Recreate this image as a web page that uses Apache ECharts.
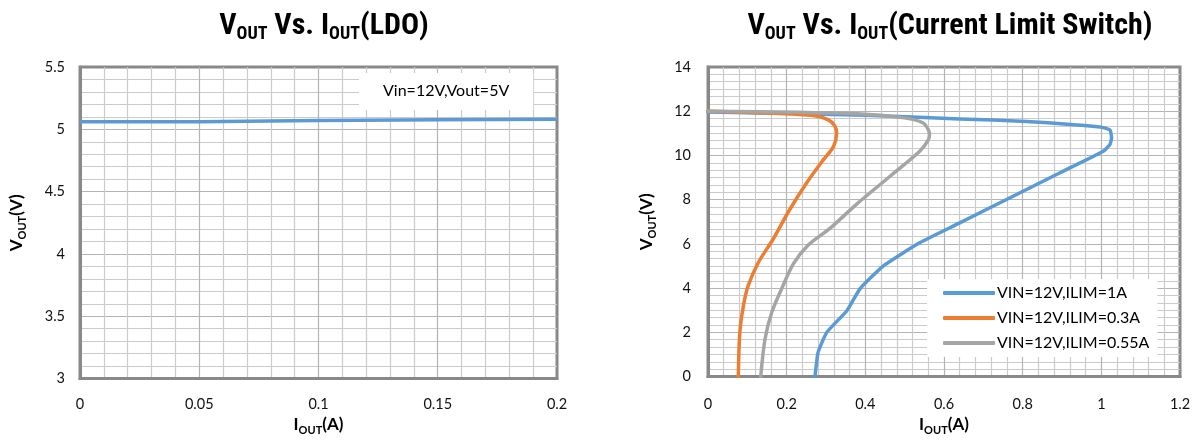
<!DOCTYPE html>
<html>
<head>
<meta charset="utf-8">
<script src="https://cdn.jsdelivr.net/npm/echarts@6/dist/echarts.min.js"></script>
<style>
html,body{margin:0;padding:0;background:#fff;}
#c{width:1198px;height:441px;}
</style>
</head>
<body>
<div id="c"></div>
<script>
// ---- Data ----
var ldoName = 'Vin=12V,Vout=5V';
var ldoI = [0, 0.05, 0.1, 0.15, 0.2];
var ldoV = [5.06, 5.06, 5.07, 5.077, 5.08];

var ldoXTicks = [0, 0.05, 0.1, 0.15, 0.2];
var ldoYTicks = [3, 3.5, 4, 4.5, 5, 5.5];

var swNames = ['VIN=12V,ILIM=1A', 'VIN=12V,ILIM=0.3A', 'VIN=12V,ILIM=0.55A'];

var sw1I = [0, 0.4, 0.64, 0.81, 0.997, 1.022, 1.026, 1.022, 1.005, 0.895, 0.768, 0.64, 0.539, 0.446, 0.386, 0.353, 0.302, 0.28, 0.272];
var sw1V = [11.97, 11.82, 11.65, 11.54, 11.29, 11.15, 10.8, 10.5, 10.19, 9.22, 8.09, 6.95, 6.06, 5.01, 3.96, 2.98, 2.0, 1.1, 0];

var sw2I = [0, 0.15, 0.27, 0.305, 0.322, 0.327, 0.319, 0.293, 0.251, 0.206, 0.165, 0.128, 0.102, 0.09, 0.081, 0.077];
var sw2V = [12.0, 11.92, 11.8, 11.62, 11.35, 11.0, 10.4, 9.8, 8.77, 7.5, 6.2, 5.16, 4.1, 3.2, 2.0, 0];

var sw3I = [0, 0.38, 0.5, 0.547, 0.56, 0.563, 0.56, 0.539, 0.463, 0.378, 0.31, 0.255, 0.217, 0.188, 0.162, 0.145, 0.134];
var sw3V = [12.0, 11.89, 11.7, 11.47, 11.17, 10.94, 10.7, 10.2, 9.06, 7.8, 6.7, 5.95, 5.1, 4.0, 2.9, 1.7, 0];

var swXTicks = [0, 0.2, 0.4, 0.6, 0.8, 1, 1.2];
var swYTicks = [0, 2, 4, 6, 8, 10, 12, 14];

var colors = ['#5b9bd5', '#ed7d31', '#a5a5a5'];

function pairs(xs, ys) { return xs.map(function (x, i) { return [x, ys[i]]; }); }

var narrow = "'Liberation Sans Narrow', 'Roboto Condensed', 'DejaVu Sans Condensed', 'Liberation Sans', sans-serif";
var lab = "Lato, 'Open Sans', 'Liberation Sans', sans-serif";

var titleRich = {
  b: { fontSize: 30, fontWeight: 'bold', fontFamily: narrow, color: '#000', lineHeight: 34, verticalAlign: 'middle' },
  s: { fontSize: 18, fontWeight: 'bold', fontFamily: narrow, color: '#000', lineHeight: 34, verticalAlign: 'bottom' }
};
var nameRich = {
  b: { fontSize: 17, fontWeight: 'bold', fontFamily: lab, color: '#000', lineHeight: 22, verticalAlign: 'middle' },
  s: { fontSize: 11, fontWeight: 'bold', fontFamily: lab, color: '#000', lineHeight: 22, verticalAlign: 'bottom' }
};

var borderColor = '#898989';

function axisCommon(extra) {
  var a = {
    type: 'value',
    axisLine: { show: true, onZero: false, lineStyle: { color: borderColor, width: 3 } },
    axisTick: { show: false },
    axisLabel: { color: '#111', fontSize: 14.5, fontFamily: lab },
    splitLine: { show: true, showMinLine: false, showMaxLine: false, lineStyle: { color: '#b4b4b4', width: 1.2 } },
    minorTick: { show: false, splitNumber: 5 },
    minorSplitLine: { show: true, lineStyle: { color: '#cbcbcb', width: 1.2 } }
  };
  for (var k in extra) a[k] = extra[k];
  return a;
}

var chart = echarts.init(document.getElementById('c'), null, { renderer: 'canvas' });

var option = {
  backgroundColor: '#fff',
  animation: false,
  title: [
    { text: '{b|V}{s|OUT}{b| Vs. I}{s|OUT}{b|(LDO)}', left: 319, top: 4, textAlign: 'center', textStyle: { rich: titleRich } },
    { text: '{b|V}{s|OUT}{b| Vs. I}{s|OUT}{b|(Current Limit Switch)}', left: 945, top: 4, textAlign: 'center', textStyle: { rich: titleRich } },
    { text: ldoName, left: 359, top: 73, backgroundColor: '#fff', padding: [9, 24, 10, 24], z: 3,
      textStyle: { fontSize: 16, fontWeight: 'normal', fontFamily: lab, color: '#000', lineHeight: 18 } }
  ],
  legend: {
    data: swNames,
    orient: 'vertical',
    left: 927, top: 279,
    backgroundColor: '#fff',
    padding: [6, 8, 6, 16],
    itemWidth: 52, itemHeight: 4, itemGap: 9,
    icon: 'roundRect',
    textStyle: { fontSize: 16, fontFamily: lab, color: '#000', padding: [0, 0, 0, -3] }
  },
  grid: [
    { left: 80, right: 641, top: 67, bottom: 61, show: true, borderColor: borderColor, borderWidth: 3, backgroundColor: 'transparent' },
    { left: 708, right: 18, top: 67, bottom: 63, show: true, borderColor: borderColor, borderWidth: 3, backgroundColor: 'transparent' }
  ],
  xAxis: [
    axisCommon({ gridIndex: 0, min: ldoXTicks[0], max: ldoXTicks[ldoXTicks.length - 1], interval: 0.05,
      axisLabel: { color: '#111', fontSize: 14.5, fontFamily: lab, margin: 18 },
      name: '{b|I}{s|OUT}{b|(A)}', nameLocation: 'middle', nameGap: 30, nameTextStyle: { rich: nameRich } }),
    axisCommon({ gridIndex: 1, min: swXTicks[0], max: swXTicks[swXTicks.length - 1], interval: 0.2,
      axisLabel: { color: '#111', fontSize: 14.5, fontFamily: lab, margin: 20 },
      name: '{b|I}{s|OUT}{b|(A)}', nameLocation: 'middle', nameGap: 32, nameTextStyle: { rich: nameRich } })
  ],
  yAxis: [
    axisCommon({ gridIndex: 0, min: ldoYTicks[0], max: ldoYTicks[ldoYTicks.length - 1], interval: 0.5,
      axisLabel: { color: '#111', fontSize: 14.5, fontFamily: lab, margin: 15 },
      name: '{b|V}{s|OUT}{b|(V)}', nameLocation: 'middle', nameGap: 52, nameRotate: 90, nameTextStyle: { rich: nameRich } }),
    axisCommon({ gridIndex: 1, min: swYTicks[0], max: swYTicks[swYTicks.length - 1], interval: 2,
      axisLabel: { color: '#111', fontSize: 14.5, fontFamily: lab, margin: 17 },
      minorTick: { show: false, splitNumber: 6 },
      name: '{b|V}{s|OUT}{b|(V)}', nameLocation: 'middle', nameGap: 50, nameRotate: 90, nameTextStyle: { rich: nameRich } })
  ],
  series: [
    { name: ldoName, type: 'line', xAxisIndex: 0, yAxisIndex: 0, data: pairs(ldoI, ldoV), showSymbol: false, symbol: 'none',
      lineStyle: { color: colors[0], width: 3.5 }, itemStyle: { color: colors[0] } },
    { name: swNames[0], type: 'line', xAxisIndex: 1, yAxisIndex: 1, data: pairs(sw1I, sw1V), showSymbol: false, symbol: 'none', smooth: 0.15,
      lineStyle: { color: colors[0], width: 3.5, cap: 'round', join: 'round' }, itemStyle: { color: colors[0] } },
    { name: swNames[1], type: 'line', xAxisIndex: 1, yAxisIndex: 1, data: pairs(sw2I, sw2V), showSymbol: false, symbol: 'none', smooth: 0.3,
      lineStyle: { color: colors[1], width: 3.5, cap: 'round', join: 'round' }, itemStyle: { color: colors[1] } },
    { name: swNames[2], type: 'line', xAxisIndex: 1, yAxisIndex: 1, data: pairs(sw3I, sw3V), showSymbol: false, symbol: 'none', smooth: 0.3,
      lineStyle: { color: colors[2], width: 3.5, cap: 'round', join: 'round' }, itemStyle: { color: colors[2] } }
  ]
};
chart.setOption(option);
</script>
</body>
</html>
